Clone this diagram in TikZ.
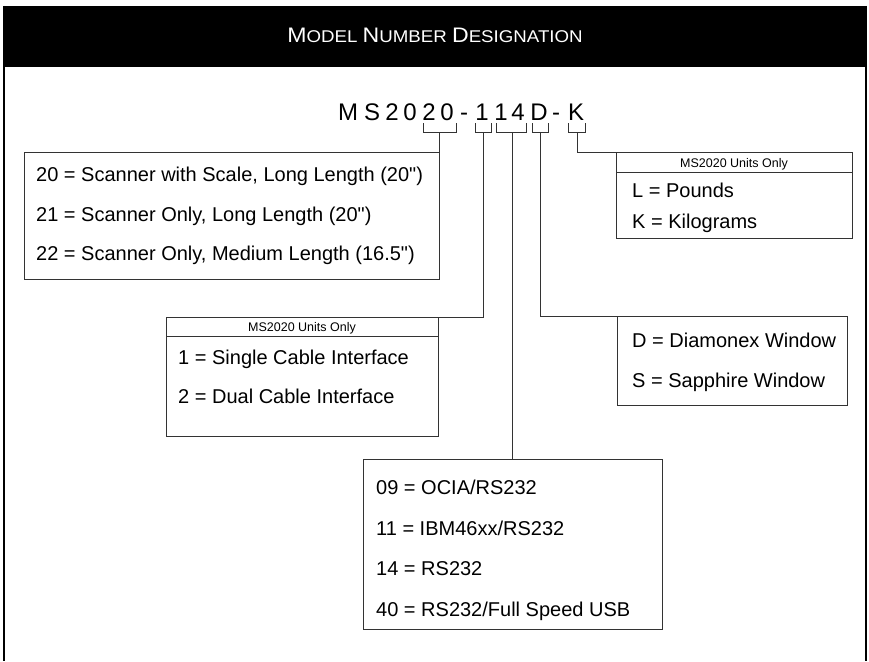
\documentclass[tikz,border=0pt]{standalone}
\usepackage{fontspec}
\setmainfont{Liberation Sans}
\newfontfamily\rawfont{Liberation Sans}
\newcommand\tcap[1]{{\fontsize{21}{24}\selectfont #1}}
\newcommand\sq{{\rawfont"}}
\begin{document}
\begin{tikzpicture}[x=1pt,y=-1pt,
 box/.style={draw=black!80, line width=0.8pt, inner sep=0pt, outer sep=0pt, anchor=north west},
 txt/.style={anchor=base west, inner sep=0pt, font=\fontsize{20}{24}\selectfont},
 hdr/.style={anchor=base, inner sep=0pt, font=\fontsize{12.5}{14}\selectfont},
 ch/.style={anchor=base, inner sep=0pt, font=\fontsize{24}{28}\selectfont},
 conn/.style={draw=black!80, line width=0.8pt}]
\useasboundingbox (0,0) rectangle (869,661);
% frame
\fill[black] (3,6) rectangle (867,67);
\draw[line width=2pt] (4,6) -- (4,661);
\draw[line width=2pt] (866,6) -- (866,661);
\node[text=white, inner sep=0pt, font=\fontsize{17}{20}\selectfont, xscale=1.1] (title) at (435,35)
  {\tcap{M}ODEL \tcap{N}UMBER \tcap{D}ESIGNATION};
% model number characters
\foreach \c/\x [count=\i] in {M/348,S/372,2/392,0/410,2/429,0/447,-/464,1/482,1/501,4/518,D/539,-/556,K/576}
  \node[ch] (c\i) at (\x,120) {\c};
% brackets
\draw[conn] (423,123) -- (423,132) -- (456,132) -- (456,123);
\draw[conn] (475,123) -- (475,132) -- (491,132) -- (491,123);
\draw[conn] (496,123) -- (496,132) -- (526,132) -- (526,123);
\draw[conn] (532,123) -- (532,132) -- (548,132) -- (548,123);
\draw[conn] (568,123) -- (568,132) -- (585,132) -- (585,123);
\coordinate (br1) at (439,132);
\coordinate (br2) at (483,132);
\coordinate (br3) at (512,132);
\coordinate (br4) at (540,132);
\coordinate (br5) at (577,132);
% boxes
\node[box, minimum width=415pt, minimum height=127pt] (b1) at (24,152) {};
\node[box, minimum width=272pt, minimum height=119pt] (b2) at (166,317) {};
\node[box, minimum width=236pt, minimum height=86pt] (b3) at (616,152) {};
\node[box, minimum width=230pt, minimum height=89pt] (b4) at (617,316) {};
\node[box, minimum width=299pt, minimum height=170pt] (b5) at (363,459) {};
\draw[conn] (b2.west |- 0,336) -- (b2.east |- 0,336);
\draw[conn] (b3.west |- 0,172) -- (b3.east |- 0,172);
% connectors
\draw[conn] (br1) -- (b1.north east);
\draw[conn] (br2) |- (b2.north east);
\draw[conn] (br3) -- (br3 |- b5.north);
\draw[conn] (br4) |- (b4.north west);
\draw[conn] (br5) |- (b3.north west);
% texts
\node[txt] (t11) at (36,181) {20 = Scanner with Scale, Long Length (20\sq)};
\node[txt] (t12) at (36,221) {21 = Scanner Only, Long Length (20\sq)};
\node[txt] (t13) at (36,260) {22 = Scanner Only, Medium Length (16.5\sq)};
\node[hdr] (h2) at (b2.north |- 0,331) {MS2020 Units Only};
\node[txt] (t21) at (178,364) {1 = Single Cable Interface};
\node[txt] (t22) at (178,403) {2 = Dual Cable Interface};
\node[hdr] (h3) at (b3.north |- 0,167) {MS2020 Units Only};
\node[txt] (t31) at (632,197) {L = Pounds};
\node[txt] (t32) at (632,228) {K = Kilograms};
\node[txt] (t41) at (632,347) {D = Diamonex Window};
\node[txt] (t42) at (632,387) {S = Sapphire Window};
\node[txt] (t51) at (376,494) {09 = OCIA/RS232};
\node[txt] (t52) at (376,535) {11 = IBM46xx/RS232};
\node[txt] (t53) at (376,575) {14 = RS232};
\node[txt] (t54) at (376,616) {40 = RS232/Full Speed USB};
\end{tikzpicture}
\end{document}
